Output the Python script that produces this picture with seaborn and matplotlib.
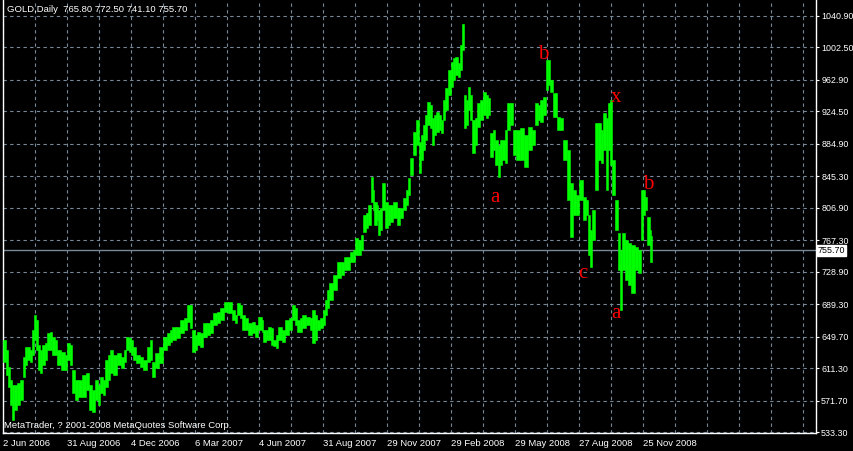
import matplotlib
matplotlib.use("Agg")
import matplotlib.pyplot as plt
import numpy as np
import seaborn as sns
from matplotlib.transforms import blended_transform_factory

bar_no = [
    0, 3, 5, 7, 9, 11, 14, 17, 20, 22,
    24, 27, 29, 31, 33, 35, 37, 39, 42, 44,
    47, 49, 52, 54, 58, 62, 64, 67, 69, 72,
    75, 79, 83, 86, 89, 92, 95, 97, 100, 102,
    105, 107, 110, 114, 118, 121, 123, 126, 128, 130,
    133, 137, 140, 144, 147, 149, 152, 156, 160, 164,
    167, 169, 173, 177, 181, 184, 187, 189, 192, 194,
    197, 200, 204, 207, 210, 214, 217, 221, 225, 229,
    232, 234, 237, 239, 242, 245, 249, 252, 255, 259,
    260, 263, 265, 268, 270, 273, 275, 279, 282, 286,
    289, 292, 294, 297, 299, 303, 307, 309, 312, 314,
    317, 320, 322, 324, 326, 330, 334, 338, 341, 347,
    350, 352, 355, 358, 360, 363, 365, 368, 370, 371,
    374, 375, 377, 379, 382, 385, 387, 390, 394, 397,
    400, 403, 405, 407, 410, 413, 416, 418, 420, 422,
    424, 427, 429, 431, 433, 436, 438, 440, 442, 445,
    448, 450, 452, 455, 457, 459, 461, 463, 465, 467,
    469, 472, 474, 477, 480, 483, 485, 487, 490, 492,
    495, 497, 499, 502, 504, 507, 510, 513, 517, 521,
    525, 529, 532, 535, 537, 540, 543, 545, 547, 550,
    554, 557, 560, 564, 567, 570, 573, 576, 580, 583,
    585, 587, 589, 592, 595, 598, 600, 603, 605, 607,
    609, 612, 615, 617, 619, 622, 625, 628, 632, 635,
    638, 640, 642, 644, 647, 648,
]
bar_high = [
    645.6, 633.4, 612.6, 596.8, 590.7, 590.7, 593.1, 596.8, 624.8, 637.1,
    637.1, 633.4, 657.8, 676.1, 670.0, 639.5, 633.4, 639.5, 641.9, 654.1,
    655.4, 649.3, 645.6, 633.4, 630.9, 627.3, 641.9, 639.5, 609.0, 596.8,
    596.8, 602.9, 605.3, 590.7, 584.6, 596.8, 590.7, 600.4, 596.8, 621.2,
    627.3, 633.4, 627.3, 629.7, 624.8, 633.4, 649.3, 648.0, 645.6, 637.1,
    627.3, 624.8, 621.2, 637.1, 645.6, 618.7, 629.7, 637.1, 649.3, 654.1,
    657.8, 661.5, 661.5, 670.0, 672.4, 688.3, 688.3, 657.8, 651.7, 655.4,
    654.1, 666.4, 666.4, 670.0, 678.5, 679.8, 684.6, 691.9, 691.9, 682.2,
    676.1, 690.7, 688.3, 676.1, 672.4, 666.4, 667.6, 663.9, 673.7, 670.0,
    657.8, 657.8, 661.5, 660.2, 645.6, 651.7, 661.5, 657.8, 670.0, 672.4,
    688.3, 684.6, 670.0, 672.4, 676.1, 673.7, 672.4, 682.2, 676.1, 670.0,
    672.4, 682.2, 694.4, 706.6, 715.1, 724.9, 740.8, 740.8, 746.9, 753.0,
    755.4, 770.0, 767.6, 773.7, 798.1, 800.5, 810.3, 844.4, 828.6, 813.9,
    810.3, 804.2, 806.6, 837.1, 813.9, 810.3, 810.3, 813.9, 806.6, 806.6,
    818.8, 828.6, 843.2, 867.6, 899.3, 914.0, 887.1, 895.7, 907.9, 920.1,
    935.9, 932.3, 916.4, 920.1, 923.7, 920.1, 914.0, 938.4, 953.0, 975.0,
    984.7, 989.6, 990.8, 983.5, 1005.5, 1031.1, 944.5, 938.4, 954.2, 944.5,
    914.0, 916.4, 934.7, 938.4, 948.1, 944.5, 940.8, 898.1, 901.8, 889.6,
    883.5, 889.6, 889.6, 901.8, 934.7, 934.7, 901.8, 901.8, 904.2, 895.7,
    905.5, 901.8, 934.7, 932.3, 938.4, 942.0, 987.2, 987.2, 962.8, 946.9,
    917.6, 916.4, 889.6, 877.4, 837.1, 828.6, 822.5, 840.8, 820.0, 816.4,
    798.1, 779.8, 804.2, 910.3, 910.3, 901.8, 922.5, 916.4, 934.7, 938.4,
    865.2, 816.4, 776.1, 755.4, 776.1, 767.6, 764.0, 761.5, 759.1, 755.4,
    828.6, 828.6, 820.0, 795.6, 779.8, 772.5,
]
bar_low = [
    618.7, 602.9, 588.2, 566.2, 547.9, 560.1, 566.2, 572.3, 600.4, 615.0,
    621.2, 618.7, 627.3, 645.6, 633.4, 609.0, 605.3, 615.0, 621.2, 633.4,
    633.4, 627.3, 627.3, 615.0, 609.0, 609.0, 621.2, 615.0, 580.9, 572.3,
    576.0, 576.0, 584.6, 560.1, 557.7, 572.3, 566.2, 580.9, 578.5, 588.2,
    596.8, 605.3, 602.9, 615.0, 611.4, 618.7, 633.4, 630.9, 627.3, 621.2,
    617.5, 612.6, 609.0, 618.7, 621.2, 600.4, 611.4, 617.5, 633.4, 639.5,
    643.2, 645.6, 648.0, 654.1, 657.8, 667.6, 660.2, 630.9, 633.4, 639.5,
    637.1, 649.3, 651.7, 654.1, 663.9, 666.4, 670.0, 679.8, 678.5, 670.0,
    666.4, 676.1, 672.4, 657.8, 657.8, 651.7, 654.1, 649.3, 657.8, 655.4,
    643.2, 645.6, 645.6, 639.5, 638.3, 635.8, 645.6, 643.2, 651.7, 657.8,
    670.0, 663.9, 655.4, 655.4, 660.2, 663.9, 657.8, 641.9, 645.6, 657.8,
    660.2, 663.9, 676.1, 684.6, 694.4, 706.6, 721.2, 724.9, 731.0, 740.8,
    740.8, 749.3, 749.3, 755.4, 777.4, 782.2, 785.9, 813.9, 804.2, 785.9,
    792.0, 773.7, 779.8, 804.2, 782.2, 785.9, 789.5, 794.4, 785.9, 794.4,
    804.2, 810.3, 822.5, 846.9, 871.3, 883.5, 849.3, 865.2, 877.4, 889.6,
    907.9, 904.2, 883.5, 895.7, 899.3, 901.8, 898.1, 914.0, 926.2, 944.5,
    954.2, 962.8, 968.9, 966.4, 975.0, 999.4, 904.2, 907.9, 926.2, 914.0,
    873.7, 883.5, 905.5, 914.0, 920.1, 916.4, 920.1, 868.8, 877.4, 859.1,
    844.4, 859.1, 865.2, 861.5, 901.8, 907.9, 871.3, 865.2, 865.2, 856.6,
    877.4, 883.5, 907.9, 914.0, 911.6, 920.1, 950.6, 956.7, 948.1, 917.6,
    901.8, 901.8, 865.2, 816.4, 771.3, 798.1, 798.1, 816.4, 792.0, 798.1,
    749.3, 734.7, 767.6, 828.6, 865.2, 861.5, 877.4, 828.6, 877.4, 859.1,
    822.5, 779.8, 731.0, 682.2, 731.0, 718.8, 712.7, 702.9, 731.0, 727.3,
    767.6, 798.1, 804.2, 761.5, 741.1, 741.1,
]
bars_total = 649

price_ticks = [1040.90, 1002.50, 962.90, 924.50, 884.90, 845.30, 806.90,
               767.30, 728.90, 689.30, 649.70, 611.30, 571.70, 533.30]
date_labels = ["2 Jun 2006", "31 Aug 2006", "4 Dec 2006", "6 Mar 2007",
               "4 Jun 2007", "31 Aug 2007", "29 Nov 2007", "29 Feb 2008",
               "29 May 2008", "27 Aug 2008", "25 Nov 2008"]

wave_text = ["b", "a", "x", "c", "a", "b"]
wave_bar = [540, 492, 613, 580, 613, 645]
wave_price = [993.3, 820.0, 942.0, 726.1, 678.5, 834.7]

quote = "GOLD,Daily  765.80 772.50 741.10 755.70"
last_close = 755.70
credit = "MetaTrader, ? 2001-2008 MetaQuotes Software Corp."

sns.set_style("dark", {"axes.facecolor": "black", "figure.facecolor": "black",
                       "axes.edgecolor": "white", "text.color": "white",
                       "xtick.color": "white", "ytick.color": "white"})
plt.rcParams["font.family"] = ["Liberation Sans", "DejaVu Sans"]

fig = plt.figure(figsize=(8.54, 4.51), dpi=100)
ax = fig.add_axes([3 / 854, 18 / 451, 813 / 854, 433 / 451])
ax.set_facecolor("black")

grid_col = "#778899"
x = np.array(bar_no)
widths = np.diff(np.append(x, bars_total))
hi = np.array(bar_high)
lo = np.array(bar_low)
ax.bar(x, hi - lo, bottom=lo, width=widths, align="edge",
       color="#00ff00", edgecolor="#00ff00", linewidth=0.4, zorder=3)

ax.axhline(last_close, color=grid_col, linewidth=1, zorder=2)

ax.set_xlim(0, 813)
ax.set_ylim(532.1, 1060.4)

xt = list(range(0, 813, 32))
xl = [date_labels[i // 2] if i % 2 == 0 and i // 2 < len(date_labels) else ""
      for i in range(len(xt))]
ax.set_xticks(xt)
ax.set_xticklabels(xl)
for lab in ax.get_xticklabels():
    lab.set_horizontalalignment("left")

ax.yaxis.tick_right()
ax.set_yticks(price_ticks)
ax.set_yticklabels([f"{v:.2f}" for v in price_ticks])

ax.grid(True, color=grid_col, linestyle=(0, (3, 3)), linewidth=0.8, zorder=1)
ax.set_axisbelow(True)
ax.tick_params(axis="x", colors="white", labelsize=6.8, length=2.5, width=0.8, pad=1.5)
ax.tick_params(axis="y", colors="white", labelsize=6.4, length=2.5, width=0.8, pad=1.2)

for side in ["left", "right", "bottom"]:
    ax.spines[side].set_color("white")
    ax.spines[side].set_linewidth(1)
ax.spines["top"].set_visible(False)

tr = blended_transform_factory(ax.transAxes, ax.transData)
ax.text(1.0 + 2 / 813, last_close - 0.6, f"{last_close:.2f}", transform=tr,
        ha="left", va="center", color="black", fontsize=6.4, zorder=5,
        bbox=dict(boxstyle="square,pad=0.1", fc="white", ec="white"))

for t, b, p in zip(wave_text, wave_bar, wave_price):
    ax.text(b, p, t, color="#ff0000", fontsize=15, ha="center", va="center",
            family=["Liberation Serif", "DejaVu Serif"], zorder=4)

fig.text(7 / 854, 1 - 10 / 451, quote, color="white", fontsize=6.8, va="center")
fig.text(4 / 854, 1 - 425 / 451, credit, color="white", fontsize=6.8, va="center")

fig.savefig("out.png", dpi=100, facecolor="black")
